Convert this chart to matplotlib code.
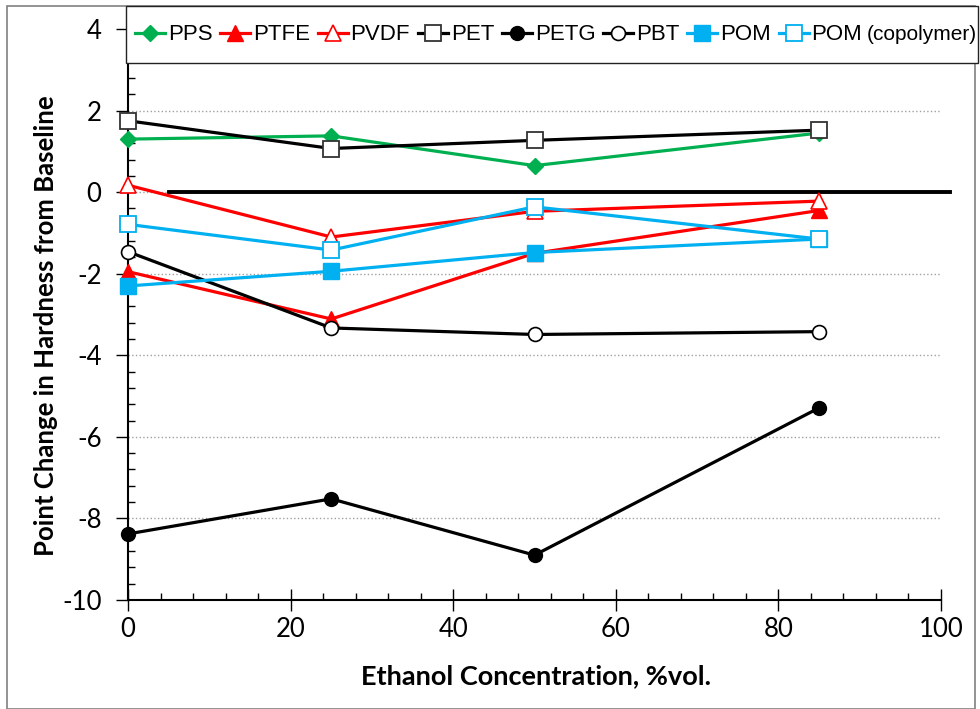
import matplotlib
matplotlib.use("Agg")
import matplotlib.pyplot as plt
from matplotlib import font_manager
from matplotlib.patches import Rectangle
from matplotlib.ticker import MultipleLocator

plt.rcParams["axes.unicode_minus"] = False

ethanol = [0, 25, 50, 85]
series_names = ["PPS", "PTFE", "PVDF", "PET", "PETG", "PBT", "POM", "POM"]
last_suffix = "(copolymer)"
pps = [1.30, 1.38, 0.65, 1.45]
ptfe = [-1.95, -3.11, -1.50, -0.45]
pvdf = [0.17, -1.10, -0.47, -0.22]
pet = [1.75, 1.07, 1.27, 1.52]
petg = [-8.38, -7.52, -8.90, -5.29]
pbt = [-1.46, -3.33, -3.49, -3.42]
pom = [-2.30, -1.94, -1.48, -1.15]
pom_co = [-0.79, -1.42, -0.36, -1.15]
x_ticks = [0, 20, 40, 60, 80, 100]
y_ticks = [-10, -8, -6, -4, -2, 0, 2, 4]

avail = {f.name for f in font_manager.fontManager.ttflist}
tick_font = "Lato" if "Lato" in avail else "DejaVu Sans"
leg_font = "Liberation Sans"

W, H = 980, 709
fig = plt.figure(figsize=(W / 100, H / 100), dpi=100)
ax = fig.add_axes([128 / W, 1 - 600 / H, (941 - 128) / W, (600 - 29) / H])

GREEN = "#00B050"
RED = "#FF0000"
BLUE = "#00B0F0"

styles = [
    (pps, dict(color=GREEN, marker="D", markersize=8, markerfacecolor=GREEN, markeredgecolor=GREEN)),
    (ptfe, dict(color=RED, marker="^", markersize=11, markerfacecolor=RED, markeredgecolor=RED)),
    (pvdf, dict(color=RED, marker="^", markersize=11, markerfacecolor="white", markeredgecolor=RED, markeredgewidth=1.2)),
    (pet, dict(color="black", marker="s", markersize=11, markerfacecolor="white", markeredgecolor="#333333", markeredgewidth=1.3)),
    (petg, dict(color="black", marker="o", markersize=10, markerfacecolor="black", markeredgecolor="black")),
    (pbt, dict(color="black", marker="o", markersize=10, markerfacecolor="white", markeredgecolor="black", markeredgewidth=1.2)),
    (pom, dict(color=BLUE, marker="s", markersize=11, markerfacecolor=BLUE, markeredgecolor=BLUE)),
    (pom_co, dict(color=BLUE, marker="s", markersize=11, markerfacecolor="white", markeredgecolor=BLUE, markeredgewidth=1.3)),
]

handles = []
for i, (vals, st) in enumerate(styles):
    h, = ax.plot(ethanol, vals, linewidth=2.3, label=series_names[i], zorder=3 + i * 0.1, clip_on=False, **st)
    handles.append(h)

# baseline zero line
ax.plot([5, 101.1], [0, 0], color="black", linewidth=2.8, zorder=2.5, clip_on=False)

ax.set_xlim(0, 100)
ax.set_ylim(-10, 4)
ax.set_xticks(x_ticks)
ax.set_yticks(y_ticks)
ax.xaxis.set_minor_locator(MultipleLocator(4))
ax.yaxis.set_minor_locator(MultipleLocator(0.4))
ax.yaxis.grid(True, which="major", linestyle=":", color="#A0A0A0", linewidth=1.0)
ax.set_axisbelow(True)
for s in ["top", "right"]:
    ax.spines[s].set_visible(False)
for s in ["left", "bottom"]:
    ax.spines[s].set_linewidth(1.5)
ax.tick_params(axis="y", which="major", direction="out", length=9, width=1.0, labelsize=18.5, pad=10)
ax.tick_params(axis="y", which="minor", direction="in", length=5, width=1.0)
ax.tick_params(axis="x", which="major", direction="inout", length=16, width=1.0, labelsize=18.5, pad=4)
ax.tick_params(axis="x", which="minor", direction="in", length=5, width=1.0)
for lab in ax.get_xticklabels() + ax.get_yticklabels():
    lab.set_fontfamily(tick_font)

ax.set_xlabel("Ethanol Concentration, %vol.", fontsize=19.5, fontweight="bold", family=tick_font)
ax.set_ylabel("Point Change in Hardness from Baseline", fontsize=18.5, fontweight="bold", family=tick_font)
ax.xaxis.set_label_coords((536 - 128) / 813, -(664 - 600) / 571)
ax.yaxis.set_label_coords((58 - 128) / 813, (600 - 326) / 571)

# legend frame
fig.patches.append(Rectangle((126 / W, 1 - 63 / H), (978 - 126) / W, 57 / H, transform=fig.transFigure,
                             facecolor="white", edgecolor="#222222", linewidth=1.0, zorder=9))

leg = fig.legend(handles=handles, loc="center left", bbox_to_anchor=(135 / W, 1 - 35 / H),
                 ncol=8, frameon=False, prop={"family": leg_font, "size": 16},
                 handlelength=1.35, handletextpad=0.12, columnspacing=0.36,
                 borderpad=0, borderaxespad=0)
leg.set_zorder(10)

fig.canvas.draw()
last_txt = leg.get_texts()[-1]
bb = last_txt.get_window_extent()
fig.text((bb.x1 + 4) / W, (bb.y0 + bb.y1) / 2 / H, last_suffix, family=leg_font, fontsize=15,
         ha="left", va="center", zorder=11)

fig.patches.append(Rectangle((7 / W, 0), (975 - 7) / W, 1 - 6 / H, transform=fig.transFigure,
                             fill=False, edgecolor="#808080", linewidth=1.2))

fig.savefig("out.png", dpi=100)
